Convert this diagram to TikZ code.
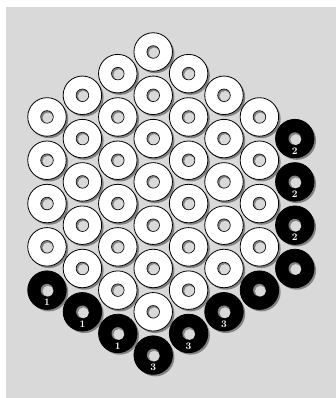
\documentclass[tikz,border=0pt]{standalone}
\usetikzlibrary{shadows}
\definecolor{boardgray}{gray}{0.85}
\tikzset{
  disc/.style={circle,minimum size=38.5pt,inner sep=0pt,line width=0.8pt,
    drop shadow={shadow xshift=2pt,shadow yshift=-2pt,fill=black,opacity=0.4}},
  hole/.style={path picture={
    \fill[boardgray!60!black] (path picture bounding box.center) circle (6.3pt);
    \fill[boardgray] ([shift={(1pt,-1pt)}]path picture bounding box.center) circle (5.4pt);
    \draw[draw=#1,line width=0.6pt] (path picture bounding box.center) circle (6.3pt);
  }},
  whitedisc/.style={disc,draw=black,fill=white,hole=black},
  blackdisc/.style={disc,draw=black,fill=black,hole=none},
  num/.style={text=white,font=\bfseries,inner sep=0pt},
}

\begin{document}
\begin{tikzpicture}[x=1pt,y=1pt]
\useasboundingbox (0,0) rectangle (336,398);
\fill[boardgray] (6,0) rectangle (336,391);

\foreach \i in {0,...,6}{
  \pgfmathtruncatemacro{\n}{6-abs(\i-3)}
  \foreach \k in {0,...,\n}{
    \node[whitedisc] (w-\i-\k) at ({47+35.4*\i},{346-21.65*abs(\i-3)-43.3*\k}) {};
  }
}

\foreach \i/\k/\lab in {7/0/2,7/1/2,7/2/2,7/3/,6/4/,0/4/1,1/5/1,5/5/3,2/6/1,4/6/3,3/7/3}{
  \node[blackdisc] (b-\i-\k) at ({47+35.4*\i},{346-21.65*abs(\i-3)-43.3*\k}) {};
  \node[num] (n-\i-\k) at ([yshift=-12.5pt]b-\i-\k.center) {\lab};
}
\end{tikzpicture}
\end{document}
